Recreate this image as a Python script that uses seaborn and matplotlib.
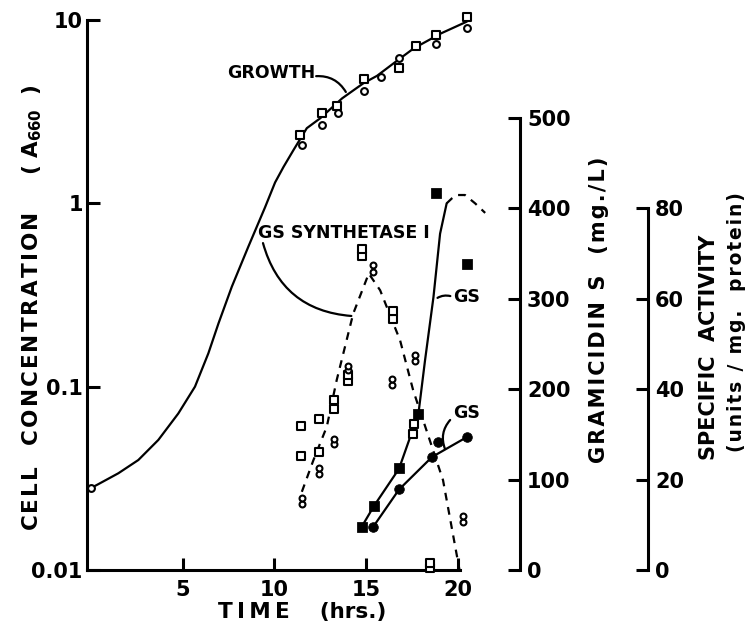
import numpy as np
import pandas as pd
import matplotlib.pyplot as plt
from matplotlib.ticker import NullLocator
import seaborn as sns

# -------------------------------
# Data
# -------------------------------
# growth (A660)
growth_sq_t = [11.4, 12.6, 13.4, 14.9, 16.8, 17.7, 18.8, 20.5]
growth_sq_a = [2.36, 3.1, 3.4, 4.77, 5.45, 7.2, 8.3, 10.4]
growth_ci_t = [0, 11.5, 12.6, 13.46, 14.9, 15.8, 16.8, 18.8, 20.5]
growth_ci_a = [0.028, 2.08, 2.67, 3.1, 4.1, 4.9, 6.2, 7.4, 9.0]
growth_curve_t = [0, 0.4, 1.49, 2.58, 3.67, 4.76, 5.67, 6.4, 6.95, 7.68, 8.58, 9.49,
                  10.04, 10.5, 11.04, 11.77, 12.5, 13.7, 14.86, 15.6, 16.6, 17.6, 19.1, 20.5]
growth_curve_a = [0.028, 0.0294, 0.0337, 0.0398, 0.0512, 0.0714, 0.100, 0.152, 0.221,
                  0.351, 0.58, 0.95, 1.3, 1.58, 1.95, 2.57, 2.91, 3.74, 4.52, 4.96,
                  5.9, 7.0, 8.46, 9.8]

# GS synthetase I, specific activity (units/mg protein)
synth_sq_t = [11.44, 11.44, 12.46, 12.46, 13.27, 13.27, 14.04, 14.04, 14.77, 14.77,
              16.46, 16.46, 17.62, 17.58, 18.5, 18.5]
synth_sq_sa = [31.8, 25.2, 33.5, 26.1, 37.6, 35.7, 41.8, 43.2, 69.5, 71.0,
               55.6, 57.2, 32.4, 30.0, 0.5, 1.6]
synth_ci_t = [11.5, 11.5, 12.46, 12.46, 13.26, 13.26, 14.04, 14.04, 15.37, 15.37,
              16.4, 16.4, 17.68, 17.68, 20.3, 20.3]
synth_ci_sa = [14.7, 15.9, 21.3, 22.5, 27.8, 29.0, 44.2, 45.2, 65.9, 67.4,
               41.0, 42.3, 46.3, 47.6, 10.6, 11.9]
synth_curve_t = [11.5, 12.13, 12.86, 13.4, 14.3, 15.15, 15.77, 16.86, 17.57, 19.2, 20.1]
synth_curve_sa = [17.3, 24.3, 31.7, 42.0, 56.7, 65.6, 61.9, 50.8, 39.8, 19.9, 0.0]

# gramicidin S (mg/L)
gs_sq_t = [14.77, 15.44, 16.8, 17.86, 18.82, 20.5]
gs_sq_v = [47.9, 70.8, 112.5, 172.6, 417, 338]
gs_sq_curve_t = [14.77, 15.44, 16.8, 17.86, 18.22, 18.68, 19.04, 19.4]
gs_sq_curve_v = [48, 71, 112, 173, 232, 302, 372, 405.6]
gs_sq_tail_t = [19.4, 19.68, 19.95, 20.4, 20.95, 21.5]
gs_sq_tail_v = [405.6, 411, 414.8, 414.8, 405.6, 395]

gs_ci_t = [15.4, 16.8, 18.62, 18.9, 20.5]
gs_ci_v = [47.9, 89.2, 124.6, 142, 146.8]
gs_ci_curve_t = [15.4, 16.8, 18.6, 20.5]
gs_ci_curve_v = [48, 89, 125, 147]

# -------------------------------
# Style
# -------------------------------
sns.set_theme(style="ticks")
plt.rcParams['font.family'] = ['DejaVu Sans']
plt.rcParams['font.weight'] = 'bold'
plt.rcParams['mathtext.default'] = 'bf'
plt.rcParams['text.color'] = 'black'


def spaced(s, sp='\u200a'):
    # letter-spaced caption text
    return sp.join(s)


LW_AX = 2.2
fig = plt.figure(figsize=(7.48, 6.27), dpi=100)
ax = fig.add_axes([87 / 748, 57 / 627, 433 / 748, 550 / 627])
ax.set_yscale('log')

line_kw = dict(color='black', estimator=None, sort=False, linewidth=1.6)
open_kw = dict(facecolor='white', edgecolor='black', linewidth=1.5, zorder=4, clip_on=False)

# growth
sns.lineplot(x=growth_curve_t, y=growth_curve_a, ax=ax, **line_kw)
sns.scatterplot(x=growth_sq_t, y=growth_sq_a, ax=ax, marker='s', s=32, **open_kw)
sns.scatterplot(x=growth_ci_t, y=growth_ci_a, ax=ax, marker='o', s=24, **open_kw)

ax.set_xlim(-0.22, 23.4)
ax.set_ylim(0.01, 10)
ax.set_xticks([5, 10, 15, 20])
ax.set_xticklabels(['5', '10', '15', '20'])
ax.set_yticks([0.01, 0.1, 1, 10])
ax.set_yticklabels(['0.01', '0.1', '1', '10'])
ax.yaxis.set_minor_locator(NullLocator())
ax.tick_params(axis='both', direction='in', length=9, width=LW_AX, labelsize=15,
               color='black', labelcolor='black')
ax.tick_params(axis='x', pad=7)
ax.tick_params(axis='y', pad=3)
for side in ['top', 'right']:
    ax.spines[side].set_visible(False)
for side in ['left', 'bottom']:
    ax.spines[side].set_linewidth(LW_AX)
    ax.spines[side].set_color('black')
ax.spines['bottom'].set_bounds(-0.22, 20.1)
ax.set_xlabel('')
ax.set_ylabel('')

# gramicidin S axis
ax2 = ax.twinx()
sns.lineplot(x=gs_sq_curve_t, y=gs_sq_curve_v, ax=ax2, **line_kw)
sns.lineplot(x=gs_sq_tail_t, y=gs_sq_tail_v, ax=ax2, linestyle=(0, (3.5, 3)), **line_kw)
sns.lineplot(x=gs_ci_curve_t, y=gs_ci_curve_v, ax=ax2, **line_kw)
sns.scatterplot(x=gs_sq_t, y=gs_sq_v, ax=ax2, marker='s', s=48, color='black',
                edgecolor='black', zorder=4)
sns.scatterplot(x=gs_ci_t, y=gs_ci_v, ax=ax2, marker='o', s=48, color='black',
                edgecolor='black', zorder=4)
ax2.set_ylim(0, 608.4)
ax2.set_yticks([0, 100, 200, 300, 400, 500])
ax2.tick_params(axis='y', direction='in', length=9, width=LW_AX, labelsize=15, pad=5,
                color='black', labelcolor='black')
for side in ['top', 'left', 'bottom']:
    ax2.spines[side].set_visible(False)
ax2.spines['right'].set_linewidth(LW_AX)
ax2.spines['right'].set_color('black')
ax2.spines['right'].set_bounds(0, 500)
ax2.set_ylabel('')

# specific activity axis
ax3 = ax.twinx()
sns.lineplot(x=synth_curve_t, y=synth_curve_sa, ax=ax3, linestyle=(0, (3.5, 3)), **line_kw)
sns.scatterplot(x=synth_sq_t, y=synth_sq_sa, ax=ax3, marker='s', s=30, **open_kw)
sns.scatterplot(x=synth_ci_t, y=synth_ci_sa, ax=ax3, marker='o', s=18, **open_kw)
ax3.set_ylim(0, 121.7)
ax3.set_yticks([0, 20, 40, 60, 80])
ax3.spines['right'].set_position(('axes', (648 - 87) / 433))
ax3.tick_params(axis='y', direction='in', length=9, width=LW_AX, labelsize=15, pad=5,
                color='black', labelcolor='black')
for side in ['top', 'left', 'bottom']:
    ax3.spines[side].set_visible(False)
ax3.spines['right'].set_linewidth(LW_AX)
ax3.spines['right'].set_color('black')
ax3.spines['right'].set_bounds(0, 80)
ax3.set_ylabel('')

# -------------------------------
# Labels and annotations
# -------------------------------
fig.text(32 / 748, 1 - 308 / 627,
         spaced('CELL  CONCENTRATION') + '     ( A$_{660}$  )', rotation=90,
         ha='center', va='center', fontsize=15.5)
fig.text(599 / 748, 1 - 310 / 627, spaced('GRAMICIDIN S  (mg./L)'), rotation=90,
         ha='center', va='center', fontsize=15)
fig.text(709 / 748, 1 - 347 / 627, 'SPECIFIC  ACTIVITY', rotation=90,
         ha='center', va='center', fontsize=15)
fig.text(737 / 748, 1 - 322 / 627, spaced('(units / mg.  protein)'), rotation=90,
         ha='center', va='center', fontsize=13.5)
fig.text(302 / 748, 1 - 612 / 627, spaced('TIME', '\u2009') + '    (hrs.)',
         ha='center', va='center', fontsize=15.5)

ann_kw = dict(arrowstyle='-', color='black', linewidth=1.6, shrinkA=0, shrinkB=0)
ax.text(7.42, 5.14, 'GROWTH', ha='left', va='center', fontsize=12.5)
ax.annotate('', xy=(13.9, 4.05), xytext=(12.28, 4.94),
            arrowprops=dict(connectionstyle='arc3,rad=-0.3', **ann_kw))
ax.text(9.11, 0.689, 'GS SYNTHETASE I', ha='left', va='center', fontsize=12.5)
ax.annotate('', xy=(14.2, 0.243), xytext=(9.38, 0.607),
            arrowprops=dict(connectionstyle='arc3,rad=0.35', **ann_kw))
ax.text(19.75, 0.308, 'GS', ha='left', va='center', fontsize=12.5)
ax.annotate('', xy=(19.6, 0.312), xytext=(18.9, 0.305),
            arrowprops=dict(connectionstyle='arc3,rad=-0.2', **ann_kw))
ax.text(19.75, 0.0718, 'GS', ha='left', va='center', fontsize=12.5)
ax.annotate('', xy=(19.31, 0.0457), xytext=(19.59, 0.0658),
            arrowprops=dict(connectionstyle='arc3,rad=0.3', **ann_kw))

fig.savefig('out.png', dpi=100)
